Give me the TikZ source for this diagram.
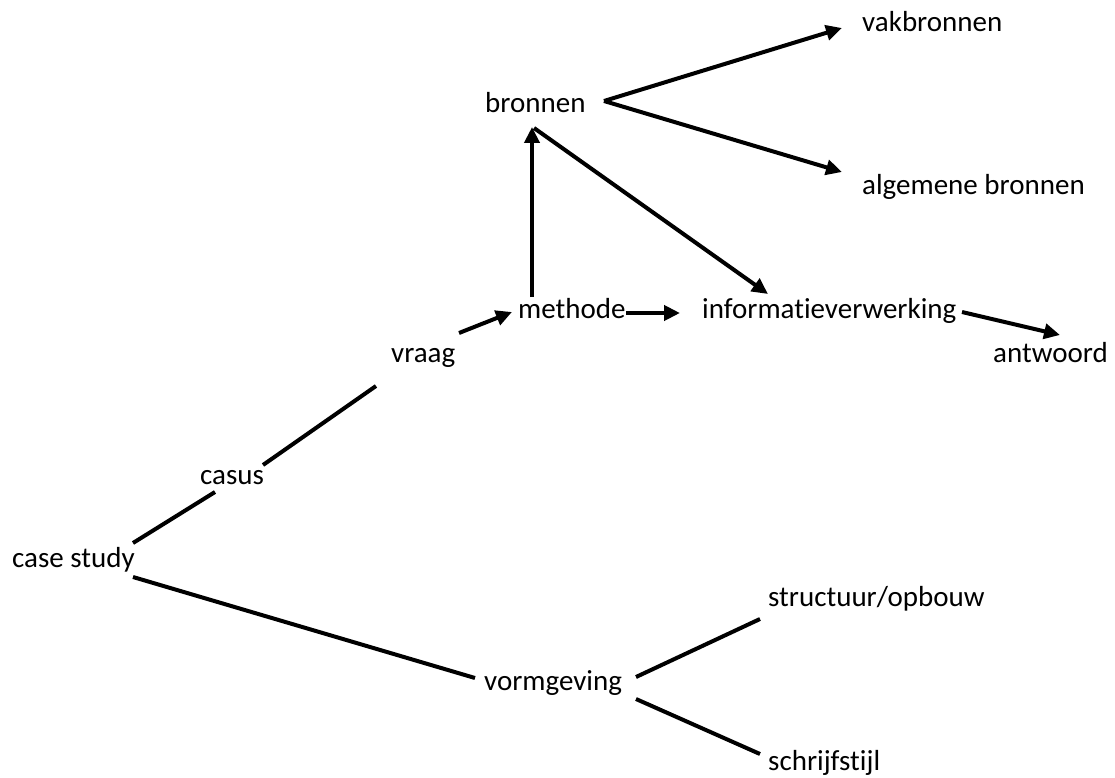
\documentclass[tikz,border=0pt]{standalone}
\usepackage{fontspec}
\setmainfont{Carlito}[Ligatures=NoCommon]
\usetikzlibrary{arrows.meta}
\begin{document}
\begin{tikzpicture}[x=1pt,y=-1pt,
  lbl/.style={inner sep=0pt,anchor=base west,font=\fontsize{29}{34}\selectfont},
  conn/.style={line width=4pt},
  arr/.style={conn,-{Triangle[length=16pt,width=15pt]}}]
\useasboundingbox (0,0) rectangle (1115,778);
\node[lbl] (vak) at (862,32) {vakbronnen};
\node[lbl] (bron) at (485,113) {bronnen};
\node[lbl] (alg) at (862,194) {algemene bronnen};
\node[lbl] (meth) at (518,318) {methode};
\node[lbl] (info) at (702,318) {informatieverwerking};
\node[lbl] (vraag) at (391,362) {vraag};
\node[lbl] (antw) at (993,362) {antwoord};
\node[lbl] (casus) at (200,484) {casus};
\node[lbl] (cs) at (12,567) {case study};
\node[lbl] (struct) at (768,606) {structuur/opbouw};
\node[lbl] (vorm) at (484,690) {vormgeving};
\node[lbl] (schrijf) at (768,770) {schrijfstijl};
% arrows
\draw[arr] ([shift={(119,-12)}]bron.base west) -- ([shift={(-20,-4)}]vak.base west);
\draw[arr] ([shift={(119,-12)}]bron.base west) -- ([shift={(-20,-22)}]alg.base west);
\draw[arr] ([shift={(14,-21)}]meth.base west) -- ([shift={(47,14)}]bron.base west);
\draw[arr] ([shift={(49,15)}]bron.base west) -- ([shift={(66,-24)}]info.base west);
\draw[arr] ([shift={(108,-5)}]meth.base west) -- ([shift={(-22,-5)}]info.base west);
\draw[arr] ([shift={(68,-29)}]vraag.base west) -- ([shift={(-6,-6)}]meth.base west);
\draw[arr] ([shift={(260,-6)}]info.base west) -- ([shift={(67,-27)}]antw.base west);
% plain lines
\draw[conn] ([shift={(63,-19)}]casus.base west) -- ([shift={(-15,24)}]vraag.base west);
\draw[conn] ([shift={(121,-24)}]cs.base west) -- ([shift={(15,8)}]casus.base west);
\draw[conn] ([shift={(121,10)}]cs.base west) -- ([shift={(-9,-12)}]vorm.base west);
\draw[conn] ([shift={(152,-13)}]vorm.base west) -- ([shift={(-8,13)}]struct.base west);
\draw[conn] ([shift={(152,9)}]vorm.base west) -- ([shift={(-8,-16)}]schrijf.base west);
\end{tikzpicture}
\end{document}
